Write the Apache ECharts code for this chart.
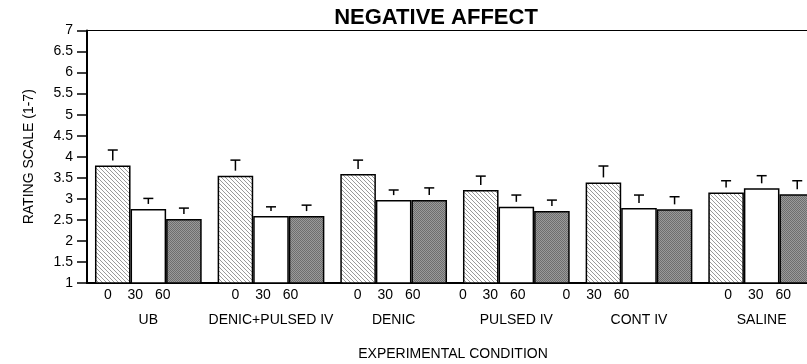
<!DOCTYPE html>
<html>
<head>
<meta charset="utf-8">
<script src="https://cdn.jsdelivr.net/npm/echarts@6/dist/echarts.min.js"></script>
<style>html,body{margin:0;padding:0;background:#fff;overflow:hidden}#c{width:830px;height:364px}</style>
</head>
<body>
<div id="c"></div>
<script>
// ---- data ----
const categories = ['UB', 'DENIC+PULSED IV', 'DENIC', 'PULSED IV', 'CONT IV', 'SALINE'];
const timeLabels = ['0', '30', '60'];
const mean0  = [3.79, 3.55, 3.59, 3.21, 3.39, 3.15];
const mean30 = [2.76, 2.59, 2.97, 2.81, 2.78, 3.25];
const mean60 = [2.52, 2.59, 2.97, 2.71, 2.75, 3.11];
const err0   = [0.37, 0.37, 0.33, 0.33, 0.39, 0.28];
const err30  = [0.25, 0.22, 0.24, 0.28, 0.31, 0.30];
const err60  = [0.26, 0.26, 0.29, 0.26, 0.30, 0.32];

// ---- layout / style (not data) ----
const FONT = 'Liberation Sans, Arial, sans-serif';
const GAP = 0.13;
const labelShift = [-13, -8, -8.5, -26, -45, -6]; // px shift of time-label row per group
const labelStep = 27.5;

function hatch() {
  const s = 4, c = document.createElement('canvas');
  c.width = s; c.height = s;
  const g = c.getContext('2d');
  g.fillStyle = '#ffffff'; g.fillRect(0, 0, s, s);
  g.strokeStyle = '#9a9a9a'; g.lineWidth = 1;
  g.beginPath();
  g.moveTo(-1, -1); g.lineTo(s + 1, s + 1);
  g.moveTo(-1, s - 1); g.lineTo(1, s + 1);
  g.moveTo(s - 1, -1); g.lineTo(s + 1, 1);
  g.stroke();
  return c;
}
function dots() {
  const c = document.createElement('canvas');
  c.width = 2; c.height = 2;
  const g = c.getContext('2d');
  g.fillStyle = '#9a9a9a'; g.fillRect(0, 0, 2, 2);
  g.fillStyle = '#6e6e6e'; g.fillRect(0, 0, 1, 1); g.fillRect(1, 1, 1, 1);
  return c;
}

const means = [mean0, mean30, mean60];
const errs = [err0, err30, err60];
const fills = [{image: hatch(), repeat: 'repeat'}, '#ffffff', {image: dots(), repeat: 'repeat'}];

const series = [];
means.forEach((m, i) => {
  series.push({
    type: 'bar', name: timeLabels[i], data: m,
    barGap: '0%', barCategoryGap: (GAP * 100) + '%',
    itemStyle: {color: fills[i], borderColor: '#000', borderWidth: 1.5},
    silent: true, z: 2
  });
});
means.forEach((m, i) => {
  series.push({
    type: 'custom', silent: true, z: 3,
    data: m.map((v, k) => [k, v, errs[i][k]]),
    encode: {x: 0, y: 1},
    renderItem: function (params, api) {
      const k = api.value(0), v = api.value(1), e = api.value(2);
      const band = api.size([1, 0])[0];
      const bw = band * (1 - GAP) / 3;
      const p = api.coord([k, v]);
      const cx = p[0] + (i - 1) * bw;
      const top = api.coord([k, v + e])[1];
      const stemEnd = Math.max(top, p[1] - 5);
      const st = {stroke: '#000', lineWidth: 1.5};
      return {type: 'group', children: [
        {type: 'line', shape: {x1: cx - 5, y1: top, x2: cx + 5, y2: top}, style: st},
        {type: 'line', shape: {x1: cx, y1: top, x2: cx, y2: stemEnd}, style: st}
      ]};
    }
  });
});
// time-point tick labels under each bar group
series.push({
  type: 'custom', silent: true, z: 3,
  data: categories.map((c, k) => [k, 1]),
  encode: {x: 0, y: 1},
  renderItem: function (params, api) {
    const k = api.value(0);
    const p = api.coord([k, 1]);
    const children = timeLabels.map((t, j) => ({
      type: 'text',
      style: {text: t, x: p[0] + labelShift[k] + (j - 1) * labelStep, y: p[1] + 12,
              fill: '#000', fontSize: 14, fontFamily: FONT, align: 'center', verticalAlign: 'middle'}
    }));
    return {type: 'group', children: children};
  }
});

const chart = echarts.init(document.getElementById('c'), null, {renderer: 'canvas'});
chart.setOption({
  animation: false,
  backgroundColor: '#fff',
  title: [
    {text: 'NEGATIVE AFFECT', left: 431, top: 2, textAlign: 'center',
     textStyle: {fontSize: 22, fontWeight: 'bold', color: '#000', fontFamily: FONT}},
    {text: 'EXPERIMENTAL CONDITION', left: 448, top: 342, textAlign: 'center',
     textStyle: {fontSize: 14, fontWeight: 'normal', color: '#000', fontFamily: FONT}}
  ],
  grid: {left: 87, top: 30.5, height: 252.5, width: 736, show: true, borderColor: '#000', borderWidth: 1.2, backgroundColor: 'transparent'},
  xAxis: {
    type: 'category', data: categories,
    axisLine: {lineStyle: {color: '#000', width: 2}},
    axisTick: {show: false},
    axisLabel: {color: '#000', fontSize: 14, fontFamily: FONT, margin: 30, interval: 0}
  },
  yAxis: {
    type: 'value', min: 1, max: 7, interval: 0.5,
    name: 'RATING SCALE (1-7)', nameLocation: 'middle', nameGap: 51,
    nameTextStyle: {color: '#000', fontSize: 14, fontFamily: FONT},
    axisLine: {show: true, lineStyle: {color: '#000', width: 2}},
    axisTick: {show: true, length: 10, lineStyle: {color: '#000', width: 1.5}},
    axisLabel: {color: '#000', fontSize: 14, fontFamily: FONT, margin: 14},
    splitLine: {show: false}
  },
  series: series
});
</script>
</body>
</html>
